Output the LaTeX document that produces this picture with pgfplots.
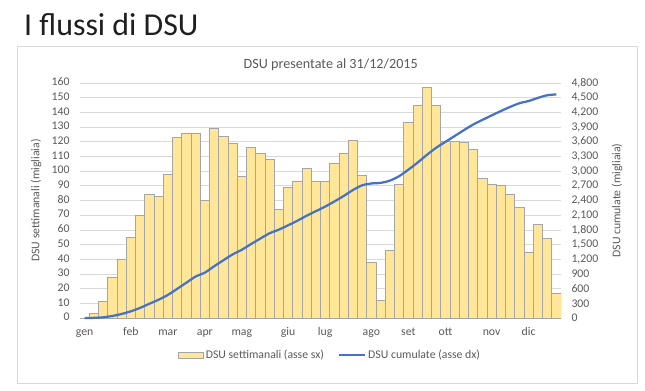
\documentclass[border=0pt]{standalone}
\usepackage{pgfplots}
\pgfplotsset{compat=1.18}
\usepackage{pgfplotstable}
\usepackage{fontspec}
\setmainfont{Carlito}
\definecolor{barfill}{HTML}{FFE699}
\definecolor{baredge}{HTML}{A5A5A5}
\definecolor{linecol}{HTML}{4472C4}
\definecolor{gridcol}{HTML}{D9D9D9}
\definecolor{txt}{HTML}{595959}

\pgfplotstableread{
w v c
0 0 0
1 3 3
2 11 14
3 28 42
4 40 82
5 55 137
6 70 207
7 84 291
8 83 374
9 98 472
10 123 595
11 126 721
12 126 847
13 80 927
14 129 1056
15 123.5 1179.5
16 119 1298.5
17 96.5 1395
18 116 1511
19 112 1623
20 108 1731
21 74 1805
22 89 1894
23 93 1987
24 102 2089
25 93 2182
26 93 2275
27 105 2380
28 112 2492
29 121 2613
30 97 2710
31 38 2748
32 12 2760
33 46 2806
34 91 2897
35 133 3030
36 145 3175
37 157 3332
38 145 3477
39 120 3597
40 120 3717
41 119.5 3836.5
42 115 3951.5
43 95 4046.5
44 91 4137.5
45 90 4227.5
46 84.5 4312
47 75 4387
48 45 4432
49 63.5 4495.5
50 54 4549.5
51 17 4566.5
}\dsu

\begin{document}
\begin{tikzpicture}[x=1bp,y=1bp]
\path[use as bounding box] (0,0) rectangle (645,390);
\draw[gridcol, line width=0.75bp] (17,7) rectangle (637,344);
\node[anchor=base west, inner sep=0pt, font=\fontsize{32}{38}\selectfont, text=black!88] at (24,355) {I flussi di DSU};
\node[font=\fontsize{14.2}{17}\selectfont, text=txt] at (330.7,325) {DSU presentate al 31/12/2015};

\begin{axis}[
  at={(80bp,72bp)}, anchor=south west,
  scale only axis, width=481bp, height=235bp,
  xmin=-0.5, xmax=51.5, ymin=0, ymax=160,
  ytick={0,10,...,160},
  xtick={0,5,9,13,17,22,26,31,35,39,44,48},
  xticklabels={gen,feb,mar,apr,mag,giu,lug,ago,set,ott,nov,dic},
  ymajorgrids, grid style={gridcol, line width=0.75bp},
  axis y line*=left, axis x line*=bottom,
  y axis line style={draw=none},
  x axis line style={draw=gridcol!80!black, line width=0.75bp},
  major tick length=0pt,
  ticklabel style={font=\fontsize{11.8}{14}\selectfont, text=txt},
  yticklabel style={xshift=-7bp},
  xticklabel style={yshift=-4bp},
  typeset ticklabels with strut,
  /pgf/number format/assume math mode=true,
  ylabel={DSU settimanali (migliaia)},
  every axis y label/.style={at={(axis description cs:-0.0915,0.5)}, anchor=center, rotate=90, font=\fontsize{11.8}{14}\selectfont, text=txt},
]
\addplot[ybar, bar width=9.25bp, bar shift=0pt, fill=barfill, draw=baredge, line width=0.75bp] table[x=w,y=v]{\dsu};
\end{axis}

\begin{axis}[
  at={(80bp,72bp)}, anchor=south west,
  scale only axis, width=481bp, height=235bp,
  xmin=-0.5, xmax=51.5, ymin=0, ymax=4800,
  ytick={0,300,...,4800},
  axis y line*=right, axis x line=none,
  y axis line style={draw=none},
  major tick length=0pt,
  scaled y ticks=false,
  clip=false,
  ticklabel style={font=\fontsize{11.8}{14}\selectfont, text=txt},
  yticklabel style={xshift=7bp, /pgf/number format/.cd, fixed, 1000 sep={,}},
  /pgf/number format/assume math mode=true,
  ylabel={DSU cumulate (migliaia)},
  every axis y label/.style={at={(axis description cs:1.1164,0.5)}, anchor=center, rotate=90, font=\fontsize{11.8}{14}\selectfont, text=txt},
  legend columns=2,
  legend cell align=left,
  legend style={at={(0.52,-0.157)}, anchor=center, draw=none, fill=none,
    font=\fontsize{11.8}{14}\selectfont, text=txt,
    /tikz/every even column/.append style={column sep=12bp}},
]
\addlegendimage{legend image code/.code={\draw[fill=barfill, draw=baredge, line width=0.6bp] (0bp,-3bp) rectangle (25bp,3bp);}}
\addlegendentry{DSU settimanali (asse sx)}
\addplot[linecol, line width=2.25bp, smooth, no markers,
  legend image code/.code={\draw[linecol, line width=2.25bp] (0bp,0bp) -- (26bp,0bp);}] table[x=w,y=c]{\dsu};
\addlegendentry{DSU cumulate (asse dx)}
\end{axis}
\end{tikzpicture}
\end{document}
